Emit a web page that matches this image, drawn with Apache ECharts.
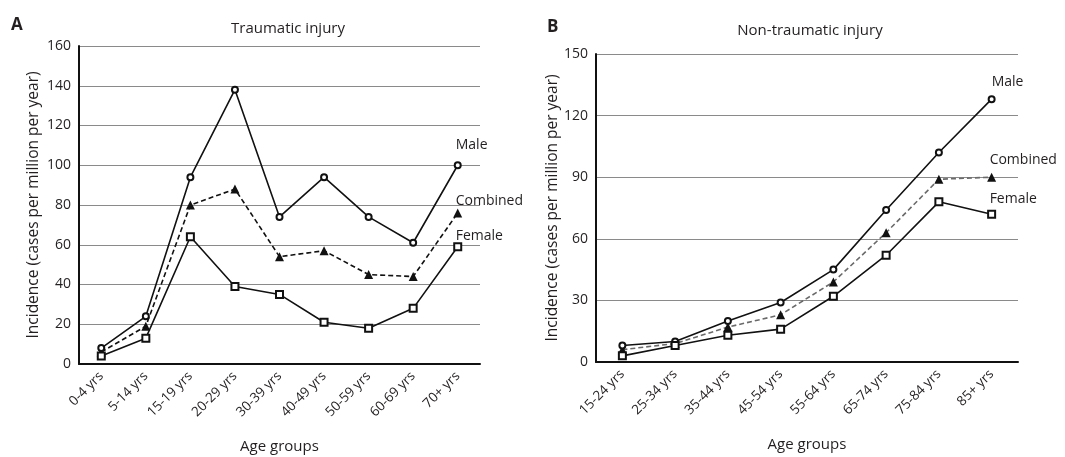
<!DOCTYPE html>
<html>
<head>
<meta charset="utf-8">
<script src="https://cdn.jsdelivr.net/npm/echarts@6/dist/echarts.min.js"></script>
<style>
  html, body { margin: 0; padding: 0; background: #fff; }
  #chart { width: 1065px; height: 457px; }
</style>
</head>
<body>
<div id="chart"></div>
<script>
// Panel A: traumatic injury
const agesA = ['0-4 yrs', '5-14 yrs', '15-19 yrs', '20-29 yrs', '30-39 yrs', '40-49 yrs', '50-59 yrs', '60-69 yrs', '70+ yrs'];
const maleA = [8, 24, 94, 138, 74, 94, 74, 61, 100];
const combinedA = [6, 19, 80, 88, 54, 57, 45, 44, 76];
const femaleA = [4, 13, 64, 39, 35, 21, 18, 28, 59];

// Panel B: non-traumatic injury
const agesB = ['15-24 yrs', '25-34 yrs', '35-44 yrs', '45-54 yrs', '55-64 yrs', '65-74 yrs', '75-84 yrs', '85+ yrs'];
const maleB = [8, 10, 20, 29, 45, 74, 102, 128];
const combinedB = [6, 9, 17, 23, 39, 63, 89, 90];
const femaleB = [3, 8, 13, 16, 32, 52, 78, 72];

const FONT = '"Open Sans", "Noto Sans", sans-serif';
const TXT = '#231f20';

function xAxis(gridIndex, data) {
  return {
    type: 'category', gridIndex, data, boundaryGap: true,
    name: 'Age groups', nameLocation: 'middle', nameGap: 75,
    nameTextStyle: { fontFamily: FONT, fontSize: 15, color: TXT },
    axisLine: { lineStyle: { color: '#111', width: 2 } },
    axisTick: { show: false },
    axisLabel: { rotate: 45, fontFamily: FONT, fontSize: 13.5, color: TXT, margin: 10, interval: 0 }
  };
}
function yAxis(gridIndex, max, interval, gap) {
  return {
    type: 'value', gridIndex, min: 0, max, interval,
    name: 'Incidence (cases per million per year)', nameLocation: 'middle', nameGap: gap,
    nameTextStyle: { fontFamily: FONT, fontSize: 15.5, color: TXT },
    axisLine: { show: true, lineStyle: { color: '#111', width: 2 } },
    axisTick: { show: false },
    axisLabel: { fontFamily: FONT, fontSize: 14, color: TXT, margin: 8 },
    splitLine: { lineStyle: { color: '#8a8a8a', width: 1 } }
  };
}
function endLabel(text, offset) {
  return { show: true, formatter: text, align: 'left', distance: 0, offset,
           fontFamily: FONT, fontSize: 14, color: TXT };
}
function series(idx, data, kind, label, offset, dashColor) {
  const base = {
    type: 'line', xAxisIndex: idx, yAxisIndex: idx, data,
    animation: false, z: kind === 'combined' ? 2 : 3,
    endLabel: endLabel(label, offset)
  };
  if (kind === 'male') {
    return Object.assign(base, { symbol: 'emptyCircle', symbolSize: 6,
      lineStyle: { color: '#111', width: 1.6 }, itemStyle: { color: '#111', borderWidth: 1.5 } });
  }
  if (kind === 'female') {
    return Object.assign(base, { symbol: 'emptyRect', symbolSize: 7,
      lineStyle: { color: '#111', width: 1.6 }, itemStyle: { color: '#111', borderWidth: 1.5 } });
  }
  return Object.assign(base, { symbol: 'triangle', symbolSize: 9,
    lineStyle: { color: dashColor, width: 1.6, type: [5, 3] }, itemStyle: { color: '#111' } });
}

const chart = echarts.init(document.getElementById('chart'), null, { renderer: 'canvas' });
chart.setOption({
  backgroundColor: '#fff',
  animation: false,
  title: [
    { text: 'A', left: 6, top: 12, textStyle: { fontFamily: FONT, fontSize: 17, fontWeight: 'bold', color: TXT } },
    { text: 'Traumatic injury', left: 283, top: 16, textAlign: 'center', textStyle: { fontFamily: FONT, fontSize: 15, fontWeight: 'normal', color: TXT } },
    { text: 'B', left: 542, top: 14, textStyle: { fontFamily: FONT, fontSize: 17, fontWeight: 'bold', color: TXT } },
    { text: 'Non-traumatic injury', left: 805, top: 18, textAlign: 'center', textStyle: { fontFamily: FONT, fontSize: 15, fontWeight: 'normal', color: TXT } }
  ],
  grid: [
    { left: 79, right: 585, top: 46, bottom: 93, outerBoundsMode: 'none', containLabel: false },
    { left: 596, right: 47, top: 54, bottom: 95, outerBoundsMode: 'none', containLabel: false }
  ],
  xAxis: [xAxis(0, agesA), xAxis(1, agesB)],
  yAxis: [yAxis(0, 160, 20, 37), yAxis(1, 150, 30, 34)],
  series: [
    series(0, maleA, 'male', 'Male', [-2, -20], '#111'),
    series(0, combinedA, 'combined', 'Combined', [-2, -12], '#111'),
    series(0, femaleA, 'female', 'Female', [-2, -11], '#111'),
    series(1, maleB, 'male', 'Male', [0, -17], '#111'),
    series(1, combinedB, 'combined', 'Combined', [-2, -17], '#6a6a6a'),
    series(1, femaleB, 'female', 'Female', [-2, -15], '#111')
  ]
});
</script>
</body>
</html>
